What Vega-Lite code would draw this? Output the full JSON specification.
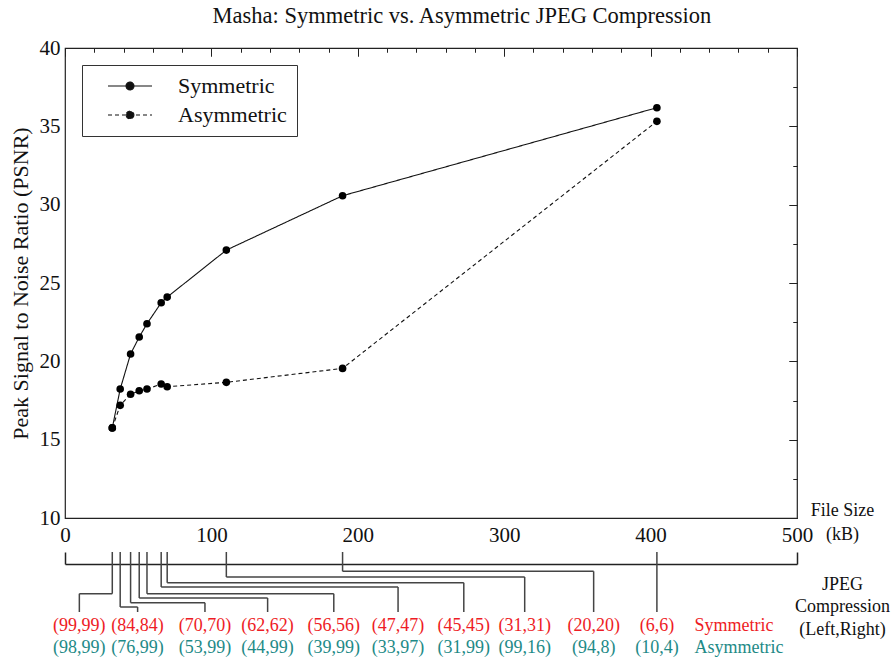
{
  "$schema": "https://vega.github.io/schema/vega-lite/v6.json",
  "padding": {"left": 8, "top": 4, "right": 5, "bottom": 0},
  "background": "white",
  "config": {
    "view": {"stroke": null},
    "font": "Liberation Serif, Times New Roman, Times, serif",
    "axis": {"labelFont": "Liberation Serif, Times New Roman, Times, serif", "titleFont": "Liberation Serif, Times New Roman, Times, serif", "titleFontWeight": "normal", "grid": false, "labelColor": "#111", "titleColor": "#111"},
    "legend": {"labelFont": "Liberation Serif, Times New Roman, Times, serif"},
    "text": {"font": "Liberation Serif, Times New Roman, Times, serif"}
  },
  "title": {"text": "Masha: Symmetric vs. Asymmetric JPEG Compression", "font": "Liberation Serif, Times New Roman, Times, serif", "fontSize": 22.5, "fontWeight": "normal", "color": "#111", "anchor": "middle", "offset": 9, "dx": 13},
  "datasets": {
    "psnr": [
      {"size": 32.3, "psnr": 15.75, "series": "Symmetric"},
      {"size": 37.7, "psnr": 18.23, "series": "Symmetric"},
      {"size": 44.8, "psnr": 20.47, "series": "Symmetric"},
      {"size": 50.7, "psnr": 21.55, "series": "Symmetric"},
      {"size": 56.0, "psnr": 22.4, "series": "Symmetric"},
      {"size": 65.7, "psnr": 23.74, "series": "Symmetric"},
      {"size": 69.8, "psnr": 24.1, "series": "Symmetric"},
      {"size": 110.2, "psnr": 27.1, "series": "Symmetric"},
      {"size": 189.6, "psnr": 30.57, "series": "Symmetric"},
      {"size": 404.3, "psnr": 36.19, "series": "Symmetric"},
      {"size": 32.3, "psnr": 15.75, "series": "Asymmetric"},
      {"size": 37.7, "psnr": 17.19, "series": "Asymmetric"},
      {"size": 44.8, "psnr": 17.9, "series": "Asymmetric"},
      {"size": 50.7, "psnr": 18.12, "series": "Asymmetric"},
      {"size": 56.0, "psnr": 18.23, "series": "Asymmetric"},
      {"size": 65.7, "psnr": 18.55, "series": "Asymmetric"},
      {"size": 69.8, "psnr": 18.38, "series": "Asymmetric"},
      {"size": 110.2, "psnr": 18.66, "series": "Asymmetric"},
      {"size": 189.6, "psnr": 19.55, "series": "Asymmetric"},
      {"size": 404.3, "psnr": 35.32, "series": "Asymmetric"}
    ],
    "labels": [
      {"size": 32.3, "labelx": 9.8, "level": 29.7, "sym": "(99,99)", "asym": "(98,99)"},
      {"size": 37.7, "labelx": 49.6, "level": 43, "sym": "(84,84)", "asym": "(76,99)"},
      {"size": 44.8, "labelx": 95.6, "level": 38.7, "sym": "(70,70)", "asym": "(53,99)"},
      {"size": 50.7, "labelx": 138.4, "level": 34, "sym": "(62,62)", "asym": "(44,99)"},
      {"size": 56.0, "labelx": 183.6, "level": 29.7, "sym": "(56,56)", "asym": "(39,99)"},
      {"size": 65.7, "labelx": 227.5, "level": 23, "sym": "(47,47)", "asym": "(33,97)"},
      {"size": 69.8, "labelx": 272.4, "level": 18.7, "sym": "(45,45)", "asym": "(31,99)"},
      {"size": 110.2, "labelx": 314, "level": 13, "sym": "(31,31)", "asym": "(99,16)"},
      {"size": 189.6, "labelx": 361.1, "level": 7.3, "sym": "(20,20)", "asym": "(94,8)"},
      {"size": 404.3, "labelx": 404.3, "level": 48, "sym": "(6,6)", "asym": "(10,4)"}
    ],
    "rowNames": [
      {"mode": "Symmetric", "depth": 62},
      {"mode": "Asymmetric", "depth": 84}
    ]
  },
  "spacing": 46,
  "bounds": "flush",
  "vconcat": [
    {
      "width": 732,
      "height": 470,
      "view": {"stroke": "#222", "strokeWidth": 1.2},
      "data": {"name": "psnr"},
      "layer": [
        {
          "mark": {"type": "line", "color": "#111", "strokeWidth": 1.1},
          "encoding": {
            "strokeDash": {
              "field": "series", "type": "nominal",
              "scale": {"domain": ["Symmetric", "Asymmetric"], "range": [[1, 0], [4, 3]]},
              "legend": {
                "orient": "top-left", "offset": 17, "title": null,
                "symbolType": "M-1,0L1,0M0.18,0A0.18,0.18,0,1,1,-0.18,0A0.18,0.18,0,1,1,0.18,0Z",
                "symbolSize": 1936, "symbolStrokeWidth": 1.1, "symbolStrokeColor": "#111", "symbolFillColor": "#111",
                "labelFont": "Liberation Serif, Times New Roman, Times, serif", "labelFontSize": 22, "labelOffset": 25, "labelColor": "#111", "labelLimit": 300,
                "padding": 10, "symbolOffset": 15, "rowPadding": 7, "clipHeight": 22,
                "strokeColor": "#333", "fillColor": "white"
              }
            },
            "x": {
              "field": "size", "type": "quantitative",
              "scale": {"domain": [0, 500], "nice": false, "zero": false},
              "axis": {
                "values": [0, 100, 200, 300, 400, 500], "ticks": false, "domain": false,
                "labelFontSize": 21, "labelPadding": 6, "labelFlush": false, "labelOverlap": false,
                "title": ["File Size", "(kB)"], "titleFontSize": 18, "titleX": 777, "titleY": -8,
                "titleBaseline": "middle", "titleAlign": "center", "titleLineHeight": 24
              }
            },
            "y": {
              "field": "psnr", "type": "quantitative",
              "scale": {"domain": [10, 40], "nice": false, "zero": false},
              "axis": {
                "values": [10, 15, 20, 25, 30, 35, 40], "ticks": false, "domain": false,
                "labelFontSize": 21, "labelPadding": 5, "labelFlush": false, "labelOverlap": false,
                "title": "Peak Signal to Noise Ratio (PSNR)", "titleFontSize": 22, "titlePadding": 7
              }
            }
          }
        },
        {
          "transform": [{"filter": "datum.series === 'Symmetric'"}],
          "mark": {"type": "point", "filled": true, "color": "#000", "size": 58, "opacity": 1},
          "encoding": {
            "x": {
              "field": "size", "type": "quantitative",
              "axis": {"values": [0, 100, 200, 300, 400, 500], "labels": false, "domain": false, "title": null, "tickColor": "#222", "tickWidth": 1, "tickSize": -8}
            },
            "y": {
              "field": "psnr", "type": "quantitative",
              "axis": {"values": [10, 15, 20, 25, 30, 35, 40], "labels": false, "domain": false, "title": null, "tickColor": "#222", "tickWidth": 1, "tickSize": -8}
            }
          }
        },
        {
          "transform": [{"filter": "datum.series === 'Asymmetric'"}],
          "mark": {"type": "point", "filled": true, "color": "#000", "size": 58, "opacity": 1},
          "encoding": {
            "x": {
              "field": "size", "type": "quantitative",
              "axis": {"orient": "top", "values": [0, 100, 200, 300, 400, 500], "labels": false, "domain": false, "title": null, "tickColor": "#222", "tickWidth": 1, "tickSize": -8}
            },
            "y": {
              "field": "psnr", "type": "quantitative",
              "axis": {"orient": "right", "values": [10, 15, 20, 25, 30, 35, 40], "labels": false, "domain": false, "title": null, "tickColor": "#222", "tickWidth": 1, "tickSize": -8}
            }
          }
        },
        {
          "mark": {"type": "point", "filled": true, "opacity": 0},
          "encoding": {
            "x": {
              "field": "size", "type": "quantitative",
              "axis": {"values": [20, 40, 60, 80, 120, 140, 160, 180, 220, 240, 260, 280, 320, 340, 360, 380, 420, 440, 460, 480], "labels": false, "domain": false, "title": null, "tickColor": "#222", "tickWidth": 1, "tickSize": -4}
            },
            "y": {
              "field": "psnr", "type": "quantitative",
              "axis": {"values": [12.5, 17.5, 22.5, 27.5, 32.5, 37.5], "labels": false, "domain": false, "title": null, "tickColor": "#222", "tickWidth": 1, "tickSize": -4}
            }
          }
        },
        {
          "mark": {"type": "point", "filled": true, "opacity": 0},
          "encoding": {
            "x": {
              "field": "size", "type": "quantitative",
              "axis": {"orient": "top", "values": [20, 40, 60, 80, 120, 140, 160, 180, 220, 240, 260, 280, 320, 340, 360, 380, 420, 440, 460, 480], "labels": false, "domain": false, "title": null, "tickColor": "#222", "tickWidth": 1, "tickSize": -4}
            },
            "y": {
              "field": "psnr", "type": "quantitative",
              "axis": {"orient": "right", "values": [12.5, 17.5, 22.5, 27.5, 32.5, 37.5], "labels": false, "domain": false, "title": null, "tickColor": "#222", "tickWidth": 1, "tickSize": -4}
            }
          }
        }
      ],
      "resolve": {"axis": {"x": "independent", "y": "independent"}}
    },
    {
      "width": 732,
      "height": 95,
      "data": {"name": "labels"},
      "layer": [
        {
          "mark": {"type": "rule", "color": "#444", "strokeWidth": 1.5},
          "encoding": {
            "x": {
              "field": "size", "type": "quantitative",
              "scale": {"domain": [0, 500], "nice": false, "zero": false},
              "axis": {
                "orient": "top", "values": [0, 500], "labels": false,
                "tickSize": 12, "tickColor": "#222", "tickWidth": 1.5, "domainColor": "#222", "domainWidth": 1.5,
                "title": ["JPEG", "Compression", "(Left,Right)"], "titleFontSize": 18, "titleX": 777, "titleY": 20,
                "titleBaseline": "middle", "titleAlign": "center", "titleLineHeight": 22.5
              }
            },
            "y": {"field": "level", "type": "quantitative", "scale": {"domain": [0, 95], "reverse": true, "nice": false, "zero": false}, "axis": null},
            "y2": {"datum": -12}
          }
        },
        {
          "mark": {"type": "rule", "color": "#444", "strokeWidth": 1.5},
          "encoding": {
            "x": {"field": "size", "type": "quantitative"},
            "x2": {"field": "labelx"},
            "y": {"field": "level", "type": "quantitative"}
          }
        },
        {
          "mark": {"type": "rule", "color": "#444", "strokeWidth": 1.5},
          "encoding": {
            "x": {"field": "labelx", "type": "quantitative"},
            "y": {"field": "level", "type": "quantitative"},
            "y2": {"datum": 48}
          }
        },
        {
          "mark": {"type": "text", "font": "Liberation Serif, Times New Roman, Times, serif", "fontSize": 18, "color": "#ee1c25", "baseline": "middle"},
          "encoding": {
            "x": {"field": "labelx", "type": "quantitative"},
            "y": {"datum": 62, "type": "quantitative"},
            "text": {"field": "sym"}
          }
        },
        {
          "mark": {"type": "text", "font": "Liberation Serif, Times New Roman, Times, serif", "fontSize": 18, "color": "#1e8a87", "baseline": "middle"},
          "encoding": {
            "x": {"field": "labelx", "type": "quantitative"},
            "y": {"datum": 84, "type": "quantitative"},
            "text": {"field": "asym"}
          }
        },
        {
          "data": {"name": "rowNames"},
          "mark": {"type": "text", "font": "Liberation Serif, Times New Roman, Times, serif", "fontSize": 18, "baseline": "middle", "align": "left"},
          "encoding": {
            "x": {"datum": 430, "type": "quantitative"},
            "y": {"field": "depth", "type": "quantitative"},
            "text": {"field": "mode"},
            "color": {"field": "mode", "type": "nominal", "scale": {"domain": ["Symmetric", "Asymmetric"], "range": ["#ee1c25", "#1e8a87"]}, "legend": null}
          }
        }
      ],
      "resolve": {"scale": {"color": "independent"}}
    }
  ],
  "resolve": {"scale": {"color": "independent"}}
}
